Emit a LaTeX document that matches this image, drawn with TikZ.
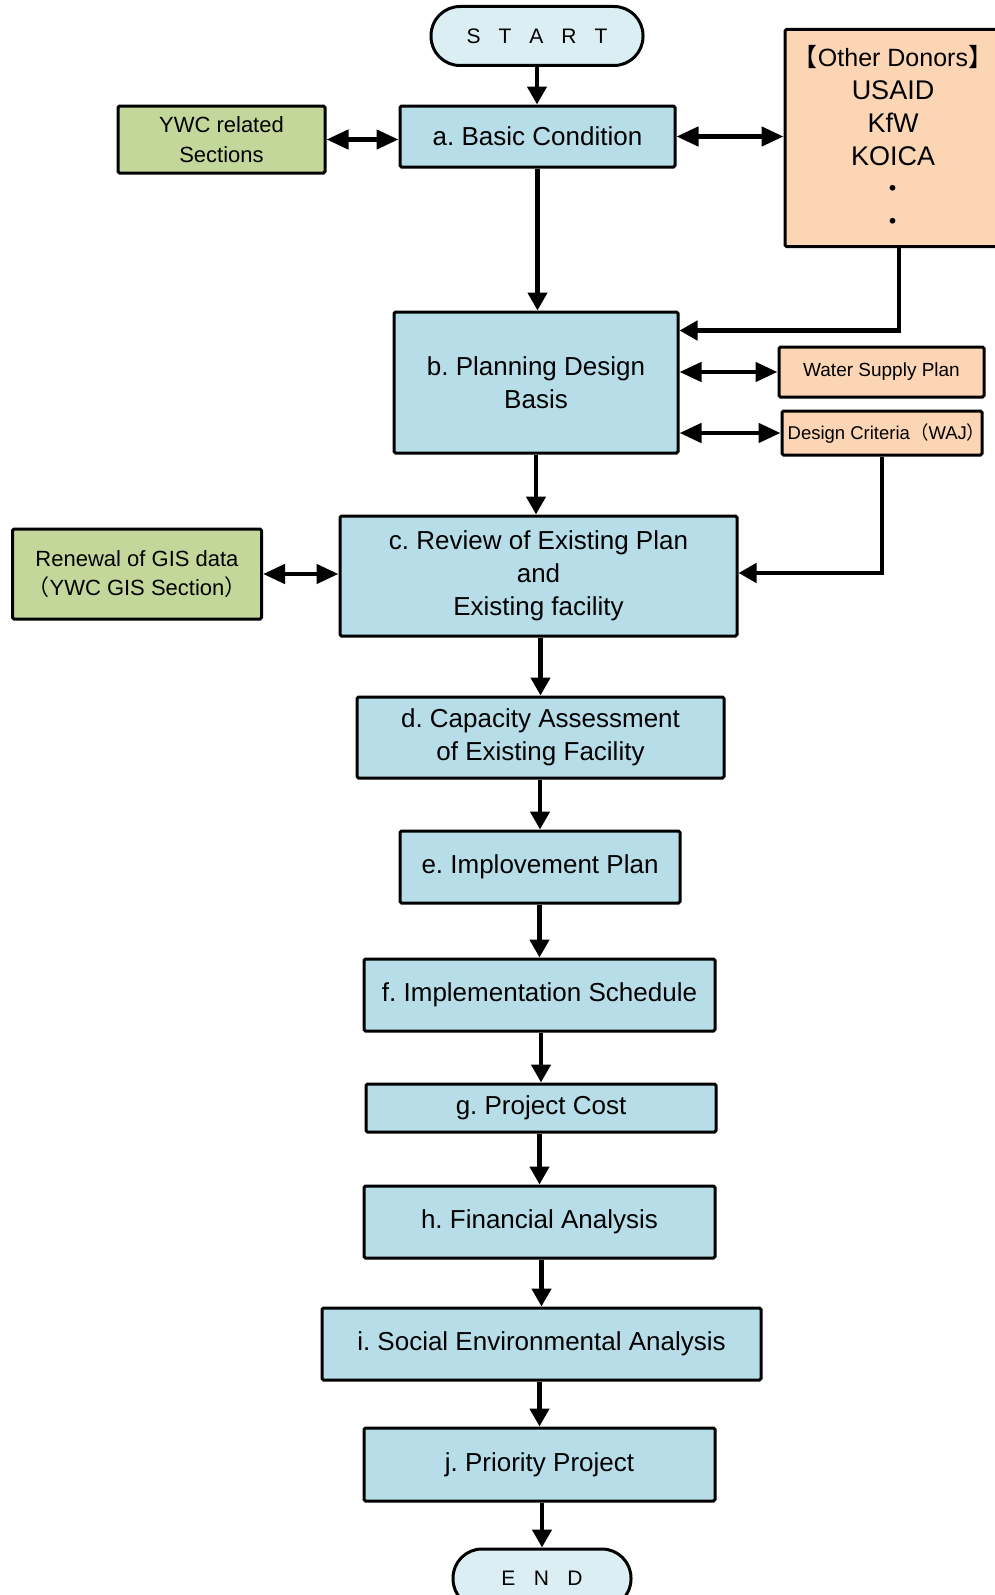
\documentclass[tikz,border=0pt]{standalone}
\usepackage{fontspec}
\setmainfont{Liberation Sans}
\newfontfamily\cjkfont{Noto Sans CJK JP}
\usetikzlibrary{arrows.meta,calc}
\definecolor{bluefill}{HTML}{B7DEE8}
\definecolor{startfill}{HTML}{DAEEF3}
\definecolor{greenfill}{HTML}{C4D79B}
\definecolor{peachfill}{HTML}{FCD5B5}
\frenchspacing
\begin{document}
\begin{tikzpicture}[x=1pt,y=-1pt,
  box/.style={draw, line width=3pt, rounded corners=1.5pt, fill=bluefill, align=center, inner sep=0pt, font=\fontsize{26}{33}\selectfont},
  gbox/.style={box, fill=greenfill, font=\fontsize{22}{29.5}\selectfont},
  pbox/.style={box, fill=peachfill},
  term/.style={draw, line width=3pt, rounded corners=29pt, fill=startfill, inner sep=0pt, font=\fontsize{21}{25}\selectfont},
  arr/.style={line width=4.6pt, -{Triangle[length=18pt,width=19pt]}},
  darr/.style={line width=4.6pt, {Triangle[length=22pt,width=19pt]}-{Triangle[length=22pt,width=19pt]}}
]
\fill[white] (0,0) rectangle (994,1595);
\useasboundingbox (0,0) rectangle (994,1595);

% terminals
\node[term, minimum width=212, minimum height=59] (start) at (537,36)
  {S\hspace{18pt}T\hspace{18pt}A\hspace{18pt}R\hspace{18pt}T};
\node[term, minimum width=178, minimum height=59] (end) at (542,1578.5)
  {E\hspace{18.5pt}N\hspace{18.5pt}D};

% main chain
\node[box, minimum width=275, minimum height=61] (a) at (537.5,136.5) {a. Basic Condition};
\node[box, minimum width=284, minimum height=141] (b) at (536,382.5) {b. Planning Design\\Basis};
\node[box, minimum width=397, minimum height=120] (c) at (538.5,576) {c. Review of Existing Plan\\and\\Existing facility};
\node[box, minimum width=367, minimum height=81] (d) at (540.5,737.5) {d. Capacity Assessment\\of Existing Facility};
\node[box, minimum width=280, minimum height=72] (e) at (540,867) {e. Implovement Plan};
\node[box, minimum width=351, minimum height=72] (f) at (539.5,995) {f. Implementation Schedule};
\node[box, minimum width=350, minimum height=48] (g) at (541,1108) {g. Project Cost};
\node[box, minimum width=351, minimum height=72] (h) at (539.5,1222) {h. Financial Analysis};
\node[box, minimum width=439, minimum height=72] (i) at (541.5,1344) {i. Social Environmental Analysis};
\node[box, minimum width=351, minimum height=73] (j) at (539.5,1464.5) {j. Priority Project};

% side boxes
\node[gbox, minimum width=207, minimum height=67] (ywc) at (221.5,139.5) {YWC related\\Sections};
\node[gbox, minimum width=249, minimum height=90] (gis) at (137,574) {Renewal of GIS data\\{\cjkfont（}YWC GIS Section{\cjkfont）}};
\node[pbox, minimum width=216, minimum height=217, font=\fontsize{27}{33}\selectfont] (oth) at (893,138)
  {{\fontsize{25}{33}\selectfont{\cjkfont【}Other Donors{\cjkfont】}}\\USAID\\KfW\\KOICA\\{\cjkfont ・}\\{\cjkfont ・}};
\node[pbox, minimum width=205, minimum height=50, font=\fontsize{19}{23}\selectfont] (wsp) at (881.5,372) {Water Supply Plan};
\node[pbox, minimum width=200, minimum height=44, font=\fontsize{18.5}{22}\selectfont] (dc) at (882,433) {Design Criteria{\cjkfont（}WAJ{\cjkfont）}\hspace{-9pt}};

% vertical flow
\draw[arr] (start.south) -- (start.south |- a.north);
\draw[arr] (a.south) -- (a.south |- b.north);
\draw[arr] (b.south) -- (b.south |- c.north);
\draw[arr] (d.north |- c.south) -- (d.north);
\draw[arr] (e.north |- d.south) -- (e.north);
\draw[arr] (f.north |- e.south) -- (f.north);
\draw[arr] (g.north |- f.south) -- (g.north);
\draw[arr] (h.north |- g.south) -- (h.north);
\draw[arr] (i.north |- h.south) -- (i.north);
\draw[arr] (j.north |- i.south) -- (j.north);
\draw[arr] (end.north |- j.south) -- (end.north);

% side connections
\draw[darr] (ywc.east) -- (ywc.east -| a.west);
\draw[darr] (a.east) -- (a.east -| oth.west);
\draw[darr] (wsp.west -| b.east) -- (wsp.west);
\draw[darr] (dc.west -| b.east) -- (dc.west);
\draw[darr] (gis.east) -- (gis.east -| c.west);
\draw[arr] ([xshift=6pt]oth.south) |- ([yshift=-20pt]b.north east);
\draw[arr] (dc.south) |- ([yshift=3pt]c.east);
\end{tikzpicture}
\end{document}
